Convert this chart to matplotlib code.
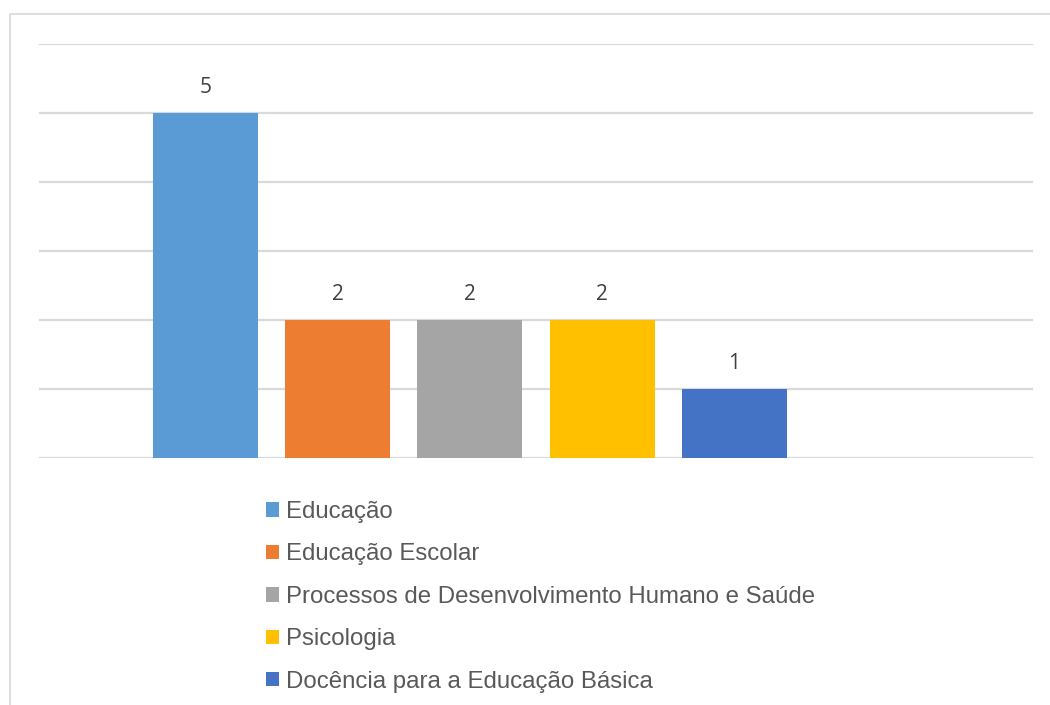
import matplotlib
matplotlib.use("Agg")
import matplotlib.pyplot as plt
from matplotlib.patches import Patch, Rectangle
import numpy as np

# areas of study and number of works in each
areas = ["Educação", "Educação Escolar",
         "Processos de Desenvolvimento Humano e Saúde",
         "Psicologia", "Docência para a Educação Básica"]
counts = [5, 2, 2, 2, 1]
colors = ["#5B9BD5", "#ED7D31", "#A5A5A5", "#FFC000", "#4472C4"]

plt.rcParams['font.family'] = ['Liberation Sans', 'DejaVu Sans']

fig = plt.figure(figsize=(10.5, 7.05), dpi=100)
ax = fig.add_axes([0.0371, 0.3504, 0.9467, 0.5872])

x = np.arange(len(areas))
bars = ax.bar(x, counts, width=0.794, color=colors, zorder=3)

for b, v in zip(bars, counts):
    ax.text(b.get_x() + b.get_width() / 2, v + 0.21, str(v),
            ha="center", va="bottom", fontsize=15, color="#404040",
            family=["Open Sans", "DejaVu Sans"])

ax.set_xlim(-1.259, 6.257)
ax.set_ylim(0, 6)
ax.set_yticks(range(0, 7))
ax.grid(axis="y", color="#d9d9d9", linewidth=1.6, zorder=0)
ax.tick_params(left=False, bottom=False, labelleft=False, labelbottom=False)
for s in ax.spines.values():
    s.set_visible(False)

# outer frame of the chart area
fig.add_artist(Rectangle((9.5 / 1050, -0.1), 1.2, (705 - 14.5) / 705 + 0.1,
                         transform=fig.transFigure, fill=False,
                         edgecolor="#d9d9d9", linewidth=1.2))

handles = [Patch(facecolor=c, edgecolor="none") for c in colors]
leg = fig.legend(handles, areas, loc="upper left",
                 bbox_to_anchor=(266 / 1050, 1 - 501 / 705),
                 frameon=False, fontsize=17.3, borderpad=0, borderaxespad=0,
                 handlelength=0.54, handleheight=0.54, handletextpad=0.28,
                 labelspacing=0.85)
for t in leg.get_texts():
    t.set_color("#595959")

fig.savefig("out.png", dpi=100)
